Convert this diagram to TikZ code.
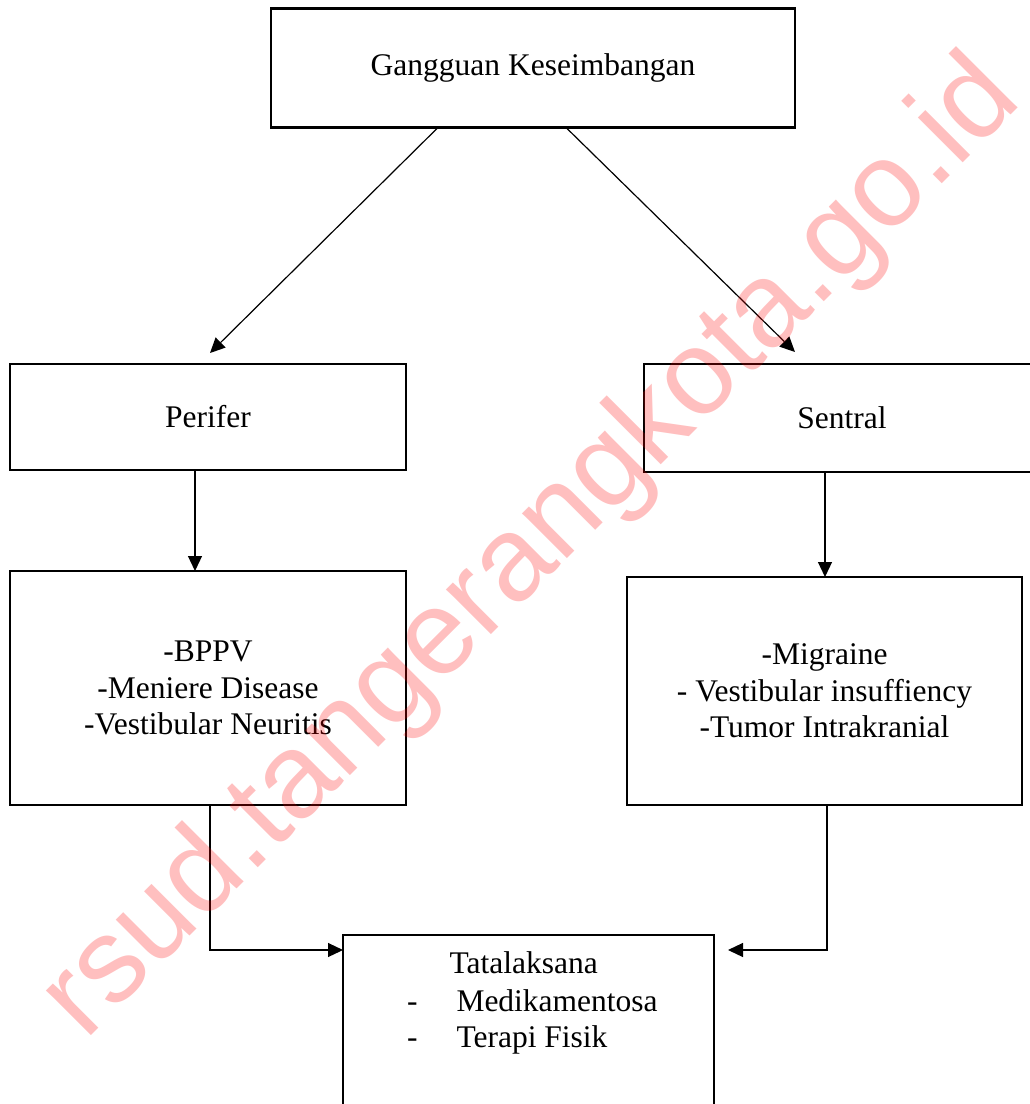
\documentclass[tikz,border=0pt]{standalone}
\usepackage{fontspec}
\setmainfont{Liberation Serif}
\newfontfamily\wmfont{Liberation Sans}
\usetikzlibrary{arrows.meta}
\begin{document}
\begin{tikzpicture}[x=1pt,y=-1pt,
  box/.style={draw, line width=2.4pt, inner sep=0pt, outer sep=0pt,
    font=\fontsize{31.5}{36.5}\selectfont, align=center},
  conn/.style={line width=1.2pt, -{Triangle[length=15pt,width=14pt]}},
  lbl/.style={inner sep=0pt, outer sep=0pt, anchor=base west,
    font=\fontsize{31.5}{36.5}\selectfont}]
\useasboundingbox (0,0) rectangle (1030,1104);
\fill[white] (0,0) rectangle (1030,1104);

% boxes
\node[box, minimum width=524pt, minimum height=119pt] (top) at (533,68) {Gangguan Keseimbangan};
\node[box, minimum width=396pt, minimum height=106pt] (perifer) at (208,417) {Perifer};
\node[box, minimum width=396pt, minimum height=108pt] (sentral) at (842,418) {Sentral};
\node[box, minimum width=396pt, minimum height=234pt] (bppv) at (208,688)
  {-BPPV\\-Meniere Disease\\-Vestibular Neuritis};
\node[box, minimum width=395pt, minimum height=228pt] (mig) at (824.5,691)
  {-Migraine\\- Vestibular insuffiency\\-Tumor Intrakranial};
\node[box, minimum width=371pt, minimum height=190pt] (tata) at (528.5,1030) {};

% text of Tatalaksana box
\node[lbl] (t1) at (449.5,973) {Tatalaksana};
\node[lbl] (d1) at (407,1011) {-};
\node[lbl] (m1) at (456.5,1011) {Medikamentosa};
\node[lbl] (d2) at (407,1047) {-};
\node[lbl] (m2) at (456.5,1047) {Terapi Fisik};

% free ends
\coordinate (pl) at (210,353);
\coordinate (pr) at (795,352);
\coordinate (pq) at (728,950);

% connectors
\draw[conn] (top.south -| 438,0) -- (pl);
\draw[conn] (top.south -| 566,0) -- (pr);
\draw[conn] (perifer.south -| 195,0) -- (bppv.north -| 195,0);
\draw[conn] (sentral.south -| 825,0) -- (mig.north -| 825,0);
\draw[conn] (bppv.south -| 210,0) |- (tata.north west |- 0,950);
\draw[conn] (mig.south -| 827,0) |- (pq);

% watermark
\node[font=\wmfont\fontsize{120}{120}\selectfont, text=red, text opacity=0.25,
  rotate=45, anchor=base west, inner sep=0pt, outer sep=0pt] (wm) at (85,1041)
  {rsud.tangerangkota.go.id};
\end{tikzpicture}
\end{document}
